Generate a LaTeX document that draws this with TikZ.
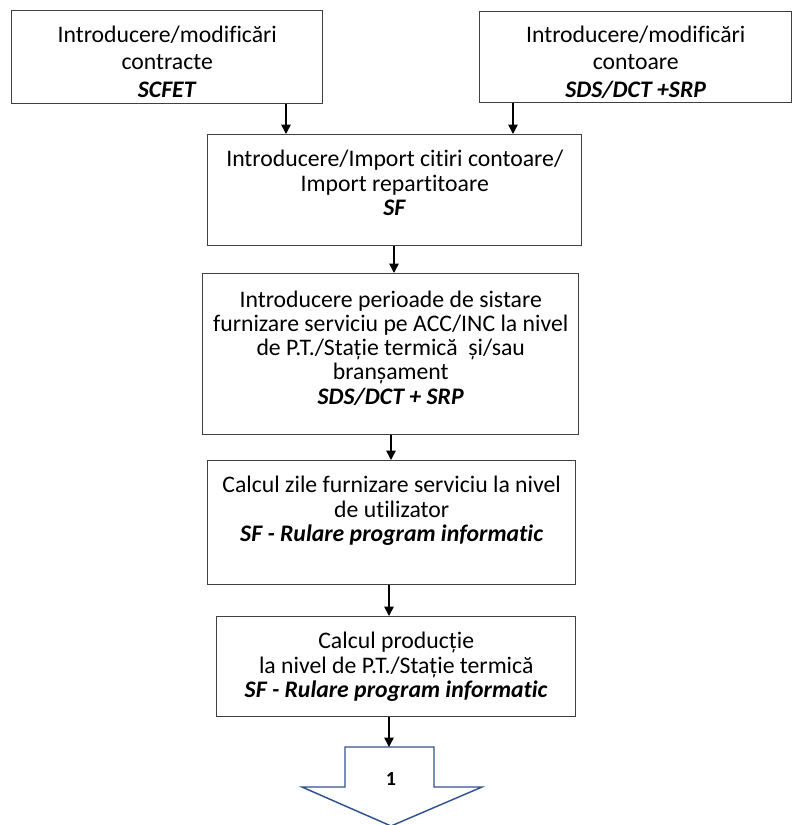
\documentclass[tikz,border=0pt]{standalone}
\usepackage{fontspec}
\setmainfont{Carlito}[Ligatures=NoCommon]
\usetikzlibrary{arrows.meta}
\definecolor{boxline}{HTML}{404040}
\definecolor{bluearrow}{HTML}{2F528F}
\tikzset{
  px/.style={x=0.75pt,y=-0.75pt},
  box/.style={draw=boxline,line width=1.1pt,rectangle,inner sep=0pt,anchor=north west},
  txt/.style={anchor=north,inner sep=0pt,align=center,font=\fontsize{17.8}{18.2}\selectfont},
  conn/.style={line width=1.1pt,-{Triangle[length=7pt,width=7pt]}},
}
\newcommand{\bi}[1]{\textbf{\textit{#1}}}
\begin{document}
\begin{tikzpicture}[px]
\useasboundingbox (0,0) rectangle (792,825);
% boxes
\node[box,minimum width=311*0.75pt,minimum height=93*0.75pt] (b1) at (11,10) {};
\node[box,minimum width=312*0.75pt,minimum height=91*0.75pt] (b2) at (479,11) {};
\node[box,minimum width=374*0.75pt,minimum height=111*0.75pt] (b3) at (207,134) {};
\node[box,minimum width=376*0.75pt,minimum height=161*0.75pt] (b4) at (202,273) {};
\node[box,minimum width=368*0.75pt,minimum height=124*0.75pt] (b5) at (207,460) {};
\node[box,minimum width=359*0.75pt,minimum height=100*0.75pt] (b6) at (216,616) {};
% texts
\node[txt] (t1) at ([yshift=-12pt]b1.north) {Introducere/modificări\\[2pt]contracte\\[3pt]\bi{SCFET}};
\node[txt] (t2) at ([yshift=-11pt]b2.north) {Introducere/modificări\\[2pt]contoare\\[3pt]\bi{SDS/DCT +SRP}};
\node[txt] (t3) at ([yshift=-12pt]b3.north) {Introducere/Import citiri contoare/\\Import repartitoare\\\bi{SF}};
\node[txt] (t4) at ([yshift=-13pt]b4.north) {Introducere perioade de sistare\\furnizare serviciu pe ACC/INC la nivel\\de P.T./Stație termică\ \ și/sau\\branșament\\\bi{SDS/DCT + SRP}};
\node[txt] (t5) at ([yshift=-12pt]b5.north) {Calcul zile furnizare serviciu la nivel\\de utilizator\\\bi{SF - Rulare program informatic}};
\node[txt] (t6) at ([yshift=-12pt]b6.north) {Calcul producție\\la nivel de P.T./Stație termică\\\bi{SF - Rulare program informatic}};
% block arrow
\draw[draw=bluearrow,line width=1.1pt,fill=white]
  (345,747) -- (434,747) -- (434,787) -- (482,787) -- (391,826) -- (302,787) -- (345,787) -- cycle;
\node[font=\fontsize{15}{16}\selectfont\bfseries,inner sep=0pt] (one) at (391,779) {1};
\coordinate (bt) at (389,747);
% connectors
\draw[conn] (b1.south -| 286,0) -- (b3.north -| 286,0);
\draw[conn] (b2.south -| 513,0) -- (b3.north -| 513,0);
\draw[conn] (b3.south -| 394,0) -- (b4.north -| 394,0);
\draw[conn] (b4.south -| 391,0) -- (b5.north -| 391,0);
\draw[conn] (b5.south -| 389,0) -- (b6.north -| 389,0);
\draw[conn] (b6.south -| 389,0) -- (bt);
\end{tikzpicture}
\end{document}
